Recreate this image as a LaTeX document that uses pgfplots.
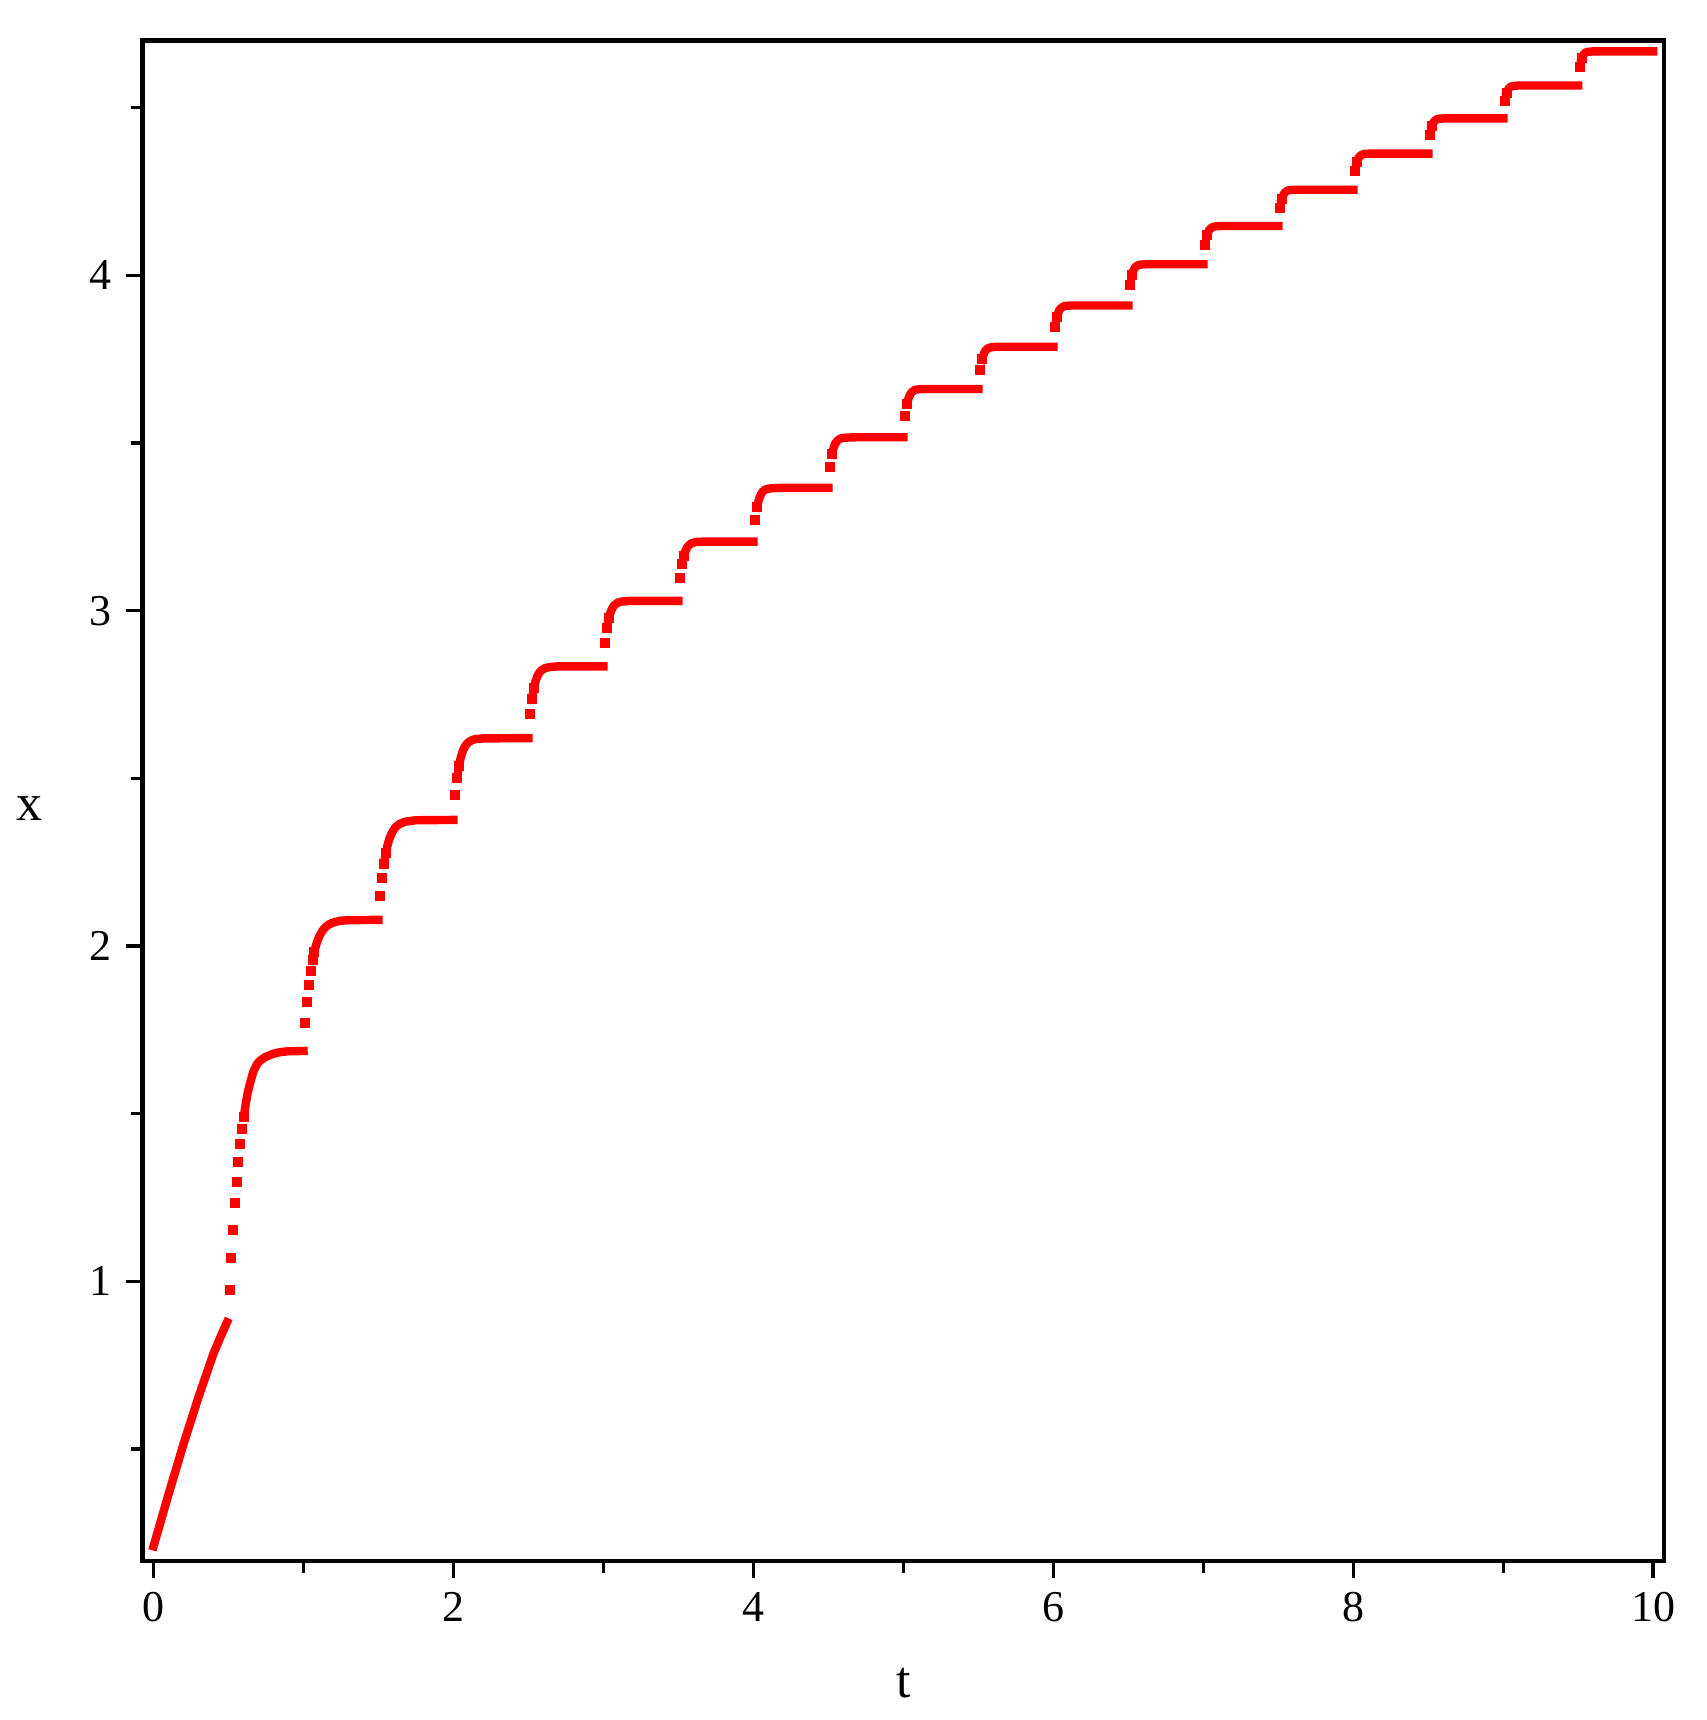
\documentclass[border=0pt]{standalone}
\usepackage{fontspec}
\setmainfont{Liberation Serif}
\usepackage{pgfplots}
\pgfplotsset{compat=1.18}
\begin{document}
\begin{tikzpicture}
\path[use as bounding box] (-35.65pt,-39.7pt) rectangle (390.85pt,390.3pt);
\begin{axis}[
  at={(0,0)}, anchor=south west,
  scale only axis, width=380.4pt, height=380.15pt,
  xmin=-0.073, xmax=10.073, ymin=0.1655, ymax=4.700,
  axis line style={line width=1.1pt, black},
  tick pos=left, tick align=outside,
  every tick/.style={black, line width=0.9pt},
  major tick length=4.2pt, minor tick length=3pt,
  xtick={0,2,4,6,8,10}, minor xtick={1,3,5,7,9},
  ytick={1,2,3,4}, minor ytick={0.5,1.5,2.5,3.5,4.5},
  /pgf/number format/assume math mode=true,
  ticklabel style={font=\fontsize{11pt}{13pt}\selectfont},
  xlabel={t}, ylabel={x},
  every axis x label/.style={at={(axis description cs:0.5,0)}, anchor=center, yshift=-30.5pt, font=\fontsize{13pt}{15pt}\selectfont},
  every axis y label/.style={at={(axis description cs:0,0.5)}, anchor=center, xshift=-28.3pt, yshift=-1.9pt, font=\fontsize{13pt}{15pt}\selectfont},
]
% continuous parts of the solution
\addplot[red, line width=2.1pt, line cap=rect, line join=round, unbounded coords=jump] coordinates {
(0,0.21)(0.1,0.365)(0.2,0.515)(0.3,0.655)(0.4,0.785)(0.45,0.838)(0.49,0.878) (0.49,nan)
(0.602,1.491)(0.614,1.527)(0.626,1.558)(0.640,1.585)(0.665,1.625)(0.69,1.648)(0.71,1.658)(0.75,1.670)(0.80,1.679)(0.85,1.684)(0.90,1.686)(1.0,1.687) (1.0,nan)
(1.060,1.958)(1.072,1.983)(1.084,2.003)(1.096,2.019)(1.108,2.031)(1.120,2.041)(1.132,2.049)(1.144,2.055)(1.168,2.064)(1.192,2.069)(1.24,2.075)(1.3,2.077)(1.5,2.078) (1.5,nan)
(1.536,2.245)(1.548,2.277)(1.560,2.300)(1.572,2.319)(1.584,2.332)(1.596,2.343)(1.608,2.351)(1.620,2.357)(1.632,2.361)(1.644,2.365)(1.68,2.371)(1.75,2.375)(2.0,2.376) (2.0,nan)
(2.024,2.500)(2.036,2.536)(2.048,2.561)(2.060,2.579)(2.072,2.591)(2.084,2.600)(2.096,2.606)(2.108,2.610)(2.120,2.613)(2.144,2.617)(2.2,2.619)(2.5,2.620) (2.5,nan)
(2.524,2.738)(2.536,2.770)(2.548,2.791)(2.560,2.805)(2.572,2.815)(2.584,2.821)(2.596,2.825)(2.608,2.828)(2.644,2.832)(2.7,2.834)(3.0,2.834) (3.0,nan)
(3.024,2.949)(3.036,2.978)(3.048,2.996)(3.060,3.008)(3.072,3.016)(3.084,3.020)(3.096,3.024)(3.120,3.027)(3.18,3.029)(3.5,3.029) (3.5,nan)
(3.524,3.138)(3.536,3.164)(3.548,3.180)(3.560,3.190)(3.572,3.196)(3.584,3.200)(3.596,3.202)(3.620,3.205)(3.68,3.206)(4.0,3.206) (4.0,nan)
(4.024,3.308)(4.036,3.331)(4.048,3.345)(4.060,3.354)(4.072,3.359)(4.084,3.362)(4.096,3.363)(4.120,3.365)(4.18,3.366)(4.5,3.366) (4.5,nan)
(4.524,3.466)(4.536,3.488)(4.548,3.500)(4.560,3.507)(4.572,3.511)(4.584,3.514)(4.620,3.516)(4.68,3.517)(5.0,3.517) (5.0,nan)
(5.024,3.616)(5.036,3.636)(5.048,3.647)(5.060,3.653)(5.072,3.657)(5.084,3.659)(5.120,3.661)(5.5,3.661) (5.5,nan)
(5.524,3.749)(5.536,3.766)(5.548,3.776)(5.560,3.781)(5.572,3.784)(5.584,3.785)(5.62,3.787)(6.0,3.787) (6.0,nan)
(6.024,3.877)(6.036,3.893)(6.048,3.901)(6.060,3.905)(6.072,3.908)(6.084,3.909)(6.12,3.910)(6.5,3.910) (6.5,nan)
(6.524,4.001)(6.536,4.017)(6.548,4.025)(6.560,4.029)(6.572,4.031)(6.584,4.032)(6.62,4.033)(7.0,4.033) (7.0,nan)
(7.024,4.119)(7.036,4.133)(7.048,4.140)(7.060,4.143)(7.072,4.145)(7.084,4.146)(7.12,4.147)(7.5,4.147) (7.5,nan)
(7.524,4.229)(7.536,4.242)(7.548,4.249)(7.560,4.252)(7.572,4.254)(7.62,4.255)(8.0,4.255) (8.0,nan)
(8.024,4.338)(8.036,4.351)(8.048,4.357)(8.060,4.360)(8.072,4.362)(8.12,4.363)(8.5,4.363) (8.5,nan)
(8.524,4.445)(8.536,4.457)(8.548,4.463)(8.560,4.466)(8.572,4.467)(8.62,4.468)(9.0,4.468) (9.0,nan)
(9.024,4.545)(9.036,4.557)(9.048,4.562)(9.060,4.564)(9.1,4.566)(9.5,4.566) (9.5,nan)
(9.524,4.647)(9.536,4.659)(9.548,4.664)(9.560,4.666)(9.6,4.668)(10.0,4.668)
};
% separated sample points in the steep jumps
\addplot[red, only marks, mark=square*, mark size=1.05pt, mark options={solid, fill=red, draw=none}] coordinates {
(0.509,0.974)(0.518,1.069)(0.528,1.153)(0.541,1.233)(0.554,1.297)(0.566,1.357)(0.578,1.410)(0.590,1.453)(0.602,1.491)
(1.012,1.769)(1.024,1.834)(1.036,1.885)(1.048,1.926)(1.060,1.958)(1.072,1.983)
(1.512,2.150)(1.524,2.204)(1.536,2.245)(1.548,2.277)
(2.012,2.449)(2.024,2.500)(2.036,2.536)
(2.512,2.691)(2.524,2.738)(2.536,2.770)
(3.012,2.904)(3.024,2.949)(3.036,2.978)
(3.512,3.096)(3.524,3.138)(3.536,3.164)
(4.012,3.270)(4.024,3.308)
(4.512,3.429)(4.524,3.466)
(5.012,3.580)(5.024,3.616)
(5.512,3.718)(5.524,3.749)
(6.012,3.846)(6.024,3.877)
(6.512,3.970)(6.524,4.001)
(7.012,4.090)(7.024,4.119)
(7.512,4.202)(7.524,4.229)
(8.012,4.311)(8.024,4.338)
(8.512,4.419)(8.524,4.445)
(9.012,4.521)(9.024,4.545)
(9.512,4.622)(9.524,4.647)
};
\end{axis}
\end{tikzpicture}
\end{document}
